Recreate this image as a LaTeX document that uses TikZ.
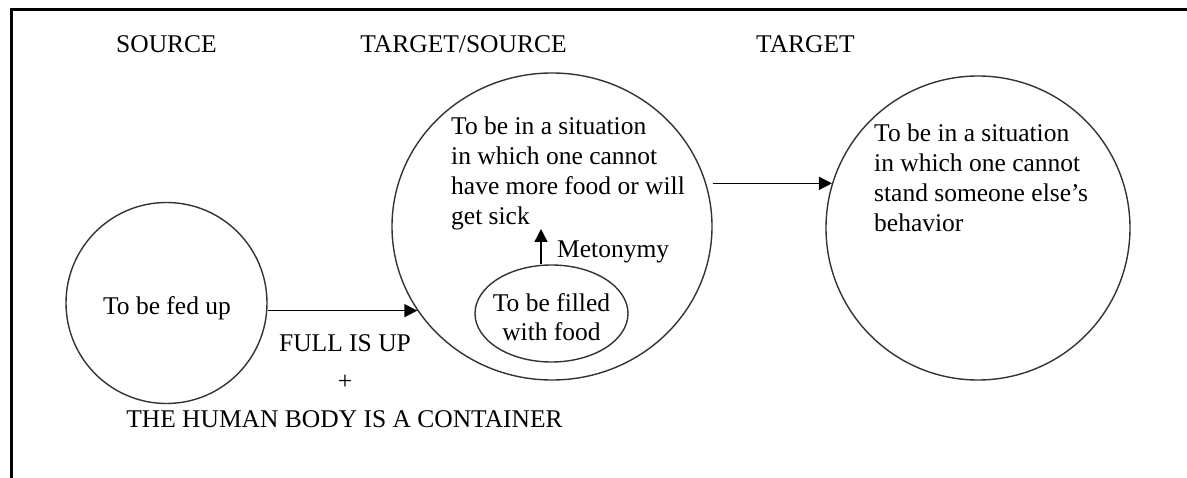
\documentclass[tikz,border=0pt]{standalone}
\usepackage{fontspec}
\setmainfont{Liberation Serif}
\usetikzlibrary{arrows.meta,shapes.geometric}
\begin{document}
\begin{tikzpicture}[x=1pt,y=-1pt,
  every node/.style={inner sep=0pt, font=\fontsize{25.5}{30}\selectfont},
  ring/.style={draw=black!80, line width=1.4pt},
  arr/.style={line width=1.4pt, -{Triangle[length=13pt,width=13pt]}},
  txt/.style={align=left, anchor=north west}]
\useasboundingbox (0,0) rectangle (1187,478);
\draw[line width=3pt] (11,478) -- (11,10) -- (1187,10);
% headings
\node[anchor=base] (hsrc) at (166.5,53) {SOURCE};
\node[anchor=base] (hmid) at (463.5,53) {TARGET/SOURCE};
\node[anchor=base] (htgt) at (805.5,53) {TARGET};
% circles
\node[ring, circle, minimum size=201pt] (src) at (166.5,303) {};
\node[anchor=base] (srct) at (167,315) {To be fed up};
\node[ring, ellipse, minimum width=320pt, minimum height=307pt] (mid) at (552,226.5) {};
\node[txt] (midt) at (451,117) {To be in a situation\\in which one cannot\\have more food or will\\get sick};
\node[ring, ellipse, minimum width=153pt, minimum height=97pt] (fill) at (551.5,313.5) {};
\node[align=center, font=\fontsize{25.5}{29}\selectfont] (fillt) at (551.5,317) {To be filled\\with food};
\node[ring, circle, minimum size=304pt] (tgt) at (978,228) {};
\node[txt] (tgtt) at (874,124) {To be in a situation\\in which one cannot\\stand someone else’s\\behavior};
% arrows
\draw[arr] (mid.212 -| src.east) -- (mid.212);
\draw[arr] (tgt.163 -| mid.east) -- (tgt.163);
\coordinate (mtip) at (541,229);
\draw[arr] (mtip |- fill.north) -- (mtip);
\node[anchor=west] (meto) at (557,252) {Metonymy};
% labels
\node[anchor=base] (full) at (345,352) {FULL IS UP};
\node (plus) at (345,382) {+};
\node[anchor=base] (body) at (344.5,428) {THE HUMAN BODY IS A CONTAINER};
\end{tikzpicture}
\end{document}
